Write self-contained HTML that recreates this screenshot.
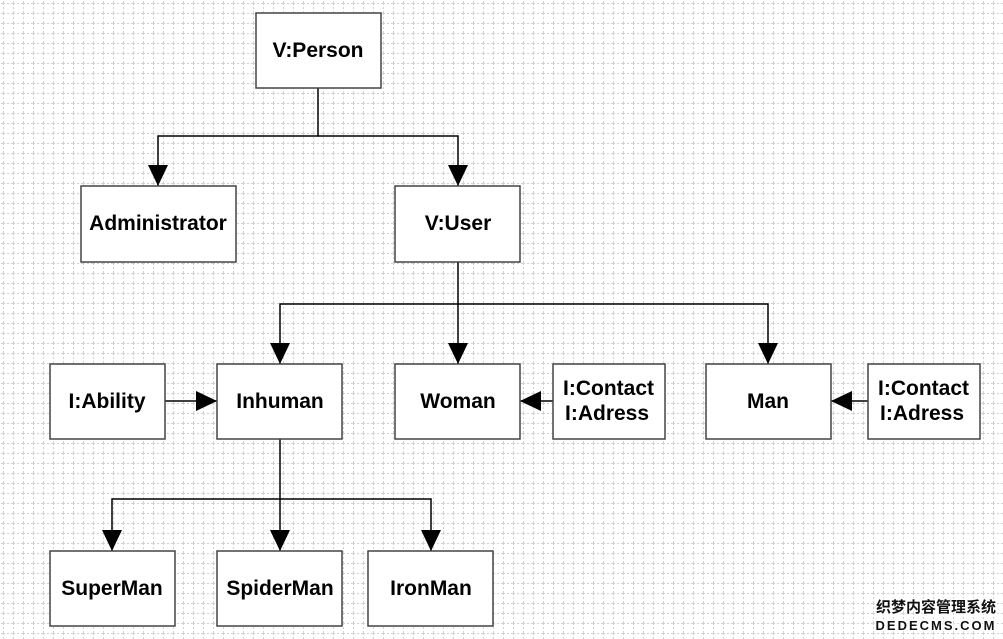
<!DOCTYPE html>
<html><head><meta charset="utf-8"><style>
body{margin:0;width:1003px;height:639px;overflow:hidden;background:#fff;}
</style></head><body>
<svg width="1003" height="639" xmlns="http://www.w3.org/2000/svg" style="position:absolute;left:0;top:0;font-family:'Liberation Sans',Arial,sans-serif">
<defs>
<pattern id="g" width="10" height="10" patternUnits="userSpaceOnUse" x="3" y="3">
<path d="M0 0.5H10M0.5 0V10" stroke="#d2d2d2" stroke-width="1" stroke-dasharray="2 2" fill="none"/>
</pattern>
<marker id="a" markerWidth="22" markerHeight="22" refX="21" refY="11" orient="auto" markerUnits="userSpaceOnUse">
<path d="M0 1L21 11L0 21Z" fill="#000"/>
</marker>
</defs>
<rect width="1003" height="639" fill="#fff"/>
<rect width="1003" height="639" fill="url(#g)"/>
<g stroke="#000" stroke-width="1.5" fill="none">
<path d="M318 88V136H158V186" marker-end="url(#a)"/>
<path d="M318 136H458V186" marker-end="url(#a)"/>
<path d="M458 262V364" marker-end="url(#a)"/>
<path d="M458 304H280V364" marker-end="url(#a)"/>
<path d="M458 304H768V364" marker-end="url(#a)"/>
<path d="M165 401H217" marker-end="url(#a)"/>
<path d="M553 401H520" marker-end="url(#a)"/>
<path d="M868 401H831" marker-end="url(#a)"/>
<path d="M280 439V551" marker-end="url(#a)"/>
<path d="M280 499H112V551" marker-end="url(#a)"/>
<path d="M280 499H431V551" marker-end="url(#a)"/>
</g>
<g fill="#fff" stroke="#444" stroke-width="1.5">
<rect x="256" y="13" width="125" height="75"/>
<rect x="81" y="186" width="155" height="76"/>
<rect x="395" y="186" width="125" height="76"/>
<rect x="50" y="364" width="115" height="75"/>
<rect x="217" y="364" width="125" height="75"/>
<rect x="395" y="364" width="125" height="75"/>
<rect x="553" y="364" width="112" height="75"/>
<rect x="706" y="364" width="125" height="75"/>
<rect x="868" y="364" width="112" height="75"/>
<rect x="50" y="551" width="125" height="75"/>
<rect x="217" y="551" width="125" height="75"/>
<rect x="368" y="551" width="125" height="75"/>
</g>
<g font-size="21" font-weight="bold" text-anchor="middle" fill="#000">
<text x="318" y="57">V:Person</text>
<text x="158" y="230">Administrator</text>
<text x="458" y="230">V:User</text>
<text x="107" y="408">I:Ability</text>
<text x="280" y="408">Inhuman</text>
<text x="458" y="408">Woman</text>
<text x="768" y="408">Man</text>
<text x="112" y="595">SuperMan</text>
<text x="280" y="595">SpiderMan</text>
<text x="431" y="595">IronMan</text>
</g>
<g font-size="21" font-weight="bold" fill="#000">
<text x="563" y="395">I:Contact</text>
<text x="565" y="420">I:Adress</text>
<text x="878" y="395">I:Contact</text>
<text x="880" y="420">I:Adress</text>
</g>
<g font-weight="bold" text-anchor="middle" fill="#111" stroke="#fff" stroke-width="3" paint-order="stroke">
<text x="936" y="612" font-family="'Noto Sans CJK SC',sans-serif" font-size="15">织梦内容管理系统</text>
<text x="936" y="630" font-size="13" letter-spacing="2">DEDECMS.COM</text>
</g>
</svg>
</body></html>
